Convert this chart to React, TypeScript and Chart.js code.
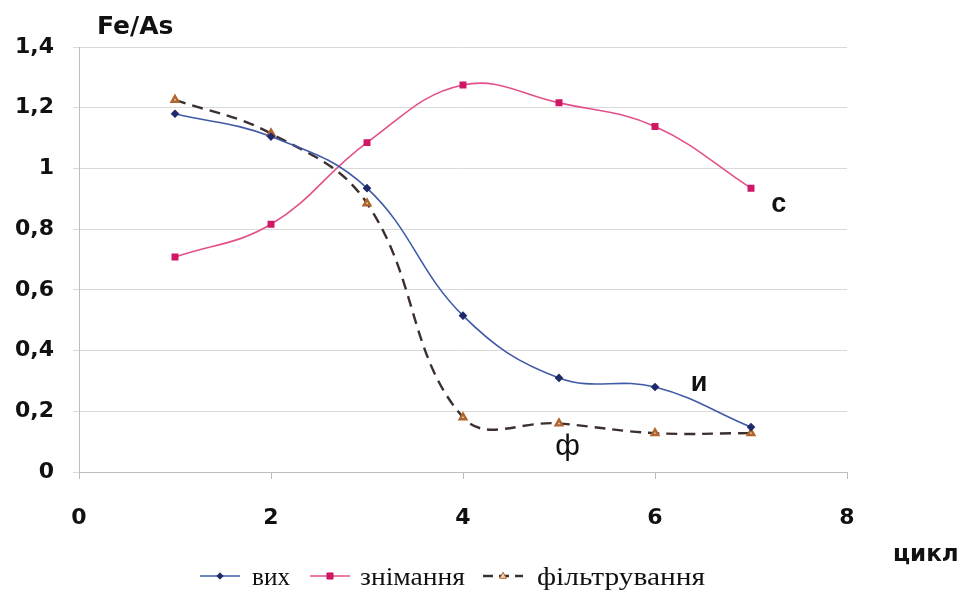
import React, { useEffect, useRef } from "react";
import { Chart, registerables } from "chart.js";

Chart.register(...registerables);

// ---- data ----
const cycles = [1, 2, 3, 4, 5, 6, 7];
const vykhValues = [1.18, 1.105, 0.935, 0.515, 0.31, 0.28, 0.148];
const znimannyaValues = [0.708, 0.816, 1.085, 1.275, 1.216, 1.138, 0.935];
const filtruvannyaValues = [1.226, 1.115, 0.885, 0.18, 0.16, 0.128, 0.128];
const seriesLabels = ["вих", "знімання", "фільтрування"];
const xTickValues = [0, 2, 4, 6, 8];
const yTickValues = [0, 0.2, 0.4, 0.6, 0.8, 1, 1.2, 1.4];
const yAxisTitle = "Fe/As";
const xAxisTitle = "цикл";
const curveLabelTexts = ["с", "и", "ф"];
const curveLabelX = [7.29, 6.46, 5.09];
const curveLabelY = [0.88, 0.29, 0.082];

const fmt = (v: number) => String(Math.round(v * 10) / 10).replace(".", ",");

function drawMarker(ctx: CanvasRenderingContext2D, style: string, x: number, y: number, r: number, fill: string, stroke: string) {
  ctx.save();
  ctx.setLineDash([]);
  ctx.fillStyle = fill;
  ctx.strokeStyle = stroke;
  ctx.lineWidth = 1;
  ctx.beginPath();
  if (style === "rectRot") {
    ctx.moveTo(x, y - r); ctx.lineTo(x + r, y); ctx.lineTo(x, y + r); ctx.lineTo(x - r, y); ctx.closePath();
  } else if (style === "rect") {
    ctx.rect(x - r * 0.8, y - r * 0.8, r * 1.6, r * 1.6);
  } else {
    ctx.moveTo(x, y - r); ctx.lineTo(x + r * 0.9, y + r * 0.6); ctx.lineTo(x - r * 0.9, y + r * 0.6); ctx.closePath();
  }
  ctx.fill();
  ctx.stroke();
  ctx.restore();
}

// legend layout (pixel styling)
const LEGEND_LINE_X = [200, 310, 483];
const LEGEND_TEXT_X = [252, 360, 537];
const LEGEND_TEXT_W = [38, 105, 168];

const textPlugin = {
  id: "extraTexts",
  afterDraw(chart: any) {
    const ctx: CanvasRenderingContext2D = chart.ctx;
    const xs = chart.scales.x;
    const ys = chart.scales.y;
    ctx.save();
    ctx.fillStyle = "#111";
    ctx.textBaseline = "middle";
    ctx.textAlign = "left";
    ctx.font = "bold 25px 'DejaVu Sans'";
    ctx.fillText(yAxisTitle, 97, 27);
    ctx.font = "bold 23px 'DejaVu Sans'";
    ctx.fillText(xAxisTitle, 893, 555);

    // curve labels
    ctx.textAlign = "center";
    curveLabelTexts.forEach((t, i) => {
      ctx.font = t === "ф" ? "30px 'Liberation Sans'" : "bold 27px 'Liberation Sans'";
      ctx.fillText(t, xs.getPixelForValue(curveLabelX[i]), ys.getPixelForValue(curveLabelY[i]));
    });

    // legend
    const ly = 576;
    ctx.font = "25px 'Liberation Serif'";
    ctx.textAlign = "left";
    chart.data.datasets.forEach((ds: any, i: number) => {
      const x = LEGEND_LINE_X[i];
      ctx.save();
      ctx.strokeStyle = ds.borderColor;
      ctx.lineWidth = ds.borderWidth;
      ctx.setLineDash(ds.borderDash ? [10, 6] : []);
      ctx.beginPath();
      ctx.moveTo(x, ly);
      ctx.lineTo(x + 40, ly);
      ctx.stroke();
      ctx.restore();
      drawMarker(ctx, ds.pointStyle, x + 20, ly, ds.pointRadius, ds.pointBackgroundColor, ds.pointBorderColor);
      const sx = LEGEND_TEXT_W[i] / ctx.measureText(seriesLabels[i]).width;
      ctx.save();
      ctx.translate(LEGEND_TEXT_X[i], ly + 2);
      ctx.scale(sx, 1);
      ctx.fillStyle = "#111";
      ctx.fillText(seriesLabels[i], 0, 0);
      ctx.restore();
    });
    ctx.restore();
  },
};

export default function App() {
  const ref = useRef<HTMLCanvasElement | null>(null);

  useEffect(() => {
    document.body.style.margin = "0";
    if (!ref.current) return;
    const mk = (vals: number[]) => cycles.map((c, i) => ({ x: c, y: vals[i] }));
    const chart = new Chart(ref.current, {
      type: "line",
      data: {
        datasets: [
          {
            label: seriesLabels[0],
            data: mk(vykhValues),
            borderColor: "#3f5aa6",
            borderWidth: 1.6,
            pointStyle: "rectRot",
            pointRadius: 3.2,
            pointBackgroundColor: "#1e2a6a",
            pointBorderColor: "#1e2a6a",
            tension: 0.4,
          },
          {
            label: seriesLabels[1],
            data: mk(znimannyaValues),
            borderColor: "#e2508a",
            borderWidth: 1.6,
            pointStyle: "rect",
            pointRadius: 3.8,
            pointBackgroundColor: "#cf1766",
            pointBorderColor: "#cf1766",
            tension: 0.4,
          },
          {
            label: seriesLabels[2],
            data: mk(filtruvannyaValues),
            borderColor: "#3b2f2f",
            borderWidth: 2.4,
            borderDash: [11, 7],
            pointStyle: "triangle",
            pointRadius: 3.8,
            pointBackgroundColor: "#f0d2b0",
            pointBorderColor: "#b0652e",
            tension: 0.4,
          },
        ],
      },
      options: {
        animation: false,
        responsive: false,
        devicePixelRatio: 1,
        layout: { padding: { left: 0, right: 121, top: 47, bottom: 0 } },
        plugins: { legend: { display: false }, tooltip: { enabled: false } },
        scales: {
          x: {
            type: "linear",
            min: 0,
            max: 8,
            afterBuildTicks: (s: any) => { s.ticks = xTickValues.map((v) => ({ value: v })); },
            afterFit: (s: any) => { s.height = 125; },
            grid: { drawOnChartArea: false, drawTicks: true, tickLength: 7, color: "#bdbdbd" },
            border: { display: true, color: "#bdbdbd", width: 1 },
            ticks: {
              padding: 26,
              color: "#111",
              font: { family: "'DejaVu Sans'", size: 22, weight: "bold" },
              callback: (v: any) => fmt(Number(v)),
            },
          },
          y: {
            type: "linear",
            min: 0,
            max: 1.4,
            afterBuildTicks: (s: any) => { s.ticks = yTickValues.map((v) => ({ value: v })); },
            afterFit: (s: any) => { s.width = 79; },
            grid: { drawOnChartArea: true, drawTicks: true, tickLength: 6, color: "#d9d9d9" },
            border: { display: true, color: "#bdbdbd", width: 1 },
            ticks: {
              padding: 19,
              color: "#111",
              font: { family: "'DejaVu Sans'", size: 22, weight: "bold" },
              callback: (v: any) => fmt(Number(v)),
            },
          },
        },
      },
      plugins: [textPlugin],
    } as any);
    return () => chart.destroy();
  }, []);

  return (
    <div style={{ position: "absolute", left: 0, top: 0, width: 968, height: 597, background: "#fff" }}>
      <canvas ref={ref} width={968} height={597} />
    </div>
  );
}
